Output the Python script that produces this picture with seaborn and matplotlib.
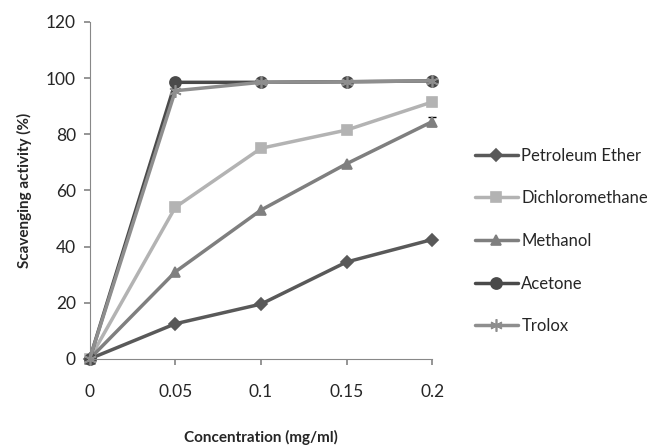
import matplotlib
matplotlib.use("Agg")
import matplotlib.pyplot as plt
import seaborn as sns
import pandas as pd

conc = [0, 0.05, 0.1, 0.15, 0.2]
conc_labels = ["0", "0.05", "0.1", "0.15", "0.2"]
petroleum_ether = [0, 12.5, 19.5, 34.5, 42.5]
dichloromethane = [0, 54, 75, 81.5, 91.5]
methanol = [0, 31, 53, 69.5, 84.5]
acetone = [0, 98.5, 98.5, 98.7, 99]
trolox = [0, 95.5, 98.5, 98.7, 99]
methanol_err = [0, 0, 0, 0, 1.5]

series = {
    "Petroleum Ether": petroleum_ether,
    "Dichloromethane": dichloromethane,
    "Methanol": methanol,
    "Acetone": acetone,
    "Trolox": trolox,
}
styles = {
    "Petroleum Ether": dict(color="#595959", marker="D", ms=6),
    "Dichloromethane": dict(color="#b3b3b3", marker="s", ms=7),
    "Methanol": dict(color="#7f7f7f", marker="^", ms=7),
    "Acetone": dict(color="#4a4a4a", marker="o", ms=8),
    "Trolox": dict(color="#8e8e8e", marker=(6, 2, 0), ms=9),
}

sns.set_theme(style="white")
plt.rcParams["font.family"] = ["Lato", "DejaVu Sans"]

fig = plt.figure(figsize=(6.5, 4.48), dpi=100)
ax = fig.add_axes([0.138, 0.199, 0.527, 0.752])

for name, vals in series.items():
    st = styles[name]
    df = pd.DataFrame({"x": conc, "y": vals})
    sns.lineplot(data=df, x="x", y="y", ax=ax, color=st["color"], lw=2.5,
                 marker=st["marker"], markersize=st["ms"],
                 markeredgecolor=st["color"], markeredgewidth=1.2,
                 label=name)

ax.errorbar(conc[-1], methanol[-1], yerr=methanol_err[-1], fmt="none",
            ecolor="black", elinewidth=1, capsize=3, zorder=1)

ax.set_xlim(0, 0.2)
ax.set_ylim(0, 120)
ax.set_xticks(conc)
ax.set_xticklabels(conc_labels)
ax.set_yticks(range(0, 121, 20))
ax.tick_params(axis="both", labelsize=12.5, length=4, color="#888888",
               direction="out", bottom=True, left=True, pad=14)
ax.tick_params(axis="y", pad=6)
for s in ["top", "right"]:
    ax.spines[s].set_visible(False)
for s in ["left", "bottom"]:
    ax.spines[s].set_color("#888888")
    ax.spines[s].set_linewidth(0.8)
for ln in ax.lines:
    ln.set_clip_on(False)

ax.set_xlabel("Concentration (mg/ml)", fontsize=11, fontweight="bold", labelpad=22)
ax.set_ylabel("Scavenging activity (%)", fontsize=11, fontweight="bold", labelpad=10)

ax.legend(loc="center left", bbox_to_anchor=(1.08, 0.35), frameon=False,
          fontsize=12, handlelength=2.6, handletextpad=0.2, labelspacing=1.6)

fig.savefig("out.png", dpi=100)
